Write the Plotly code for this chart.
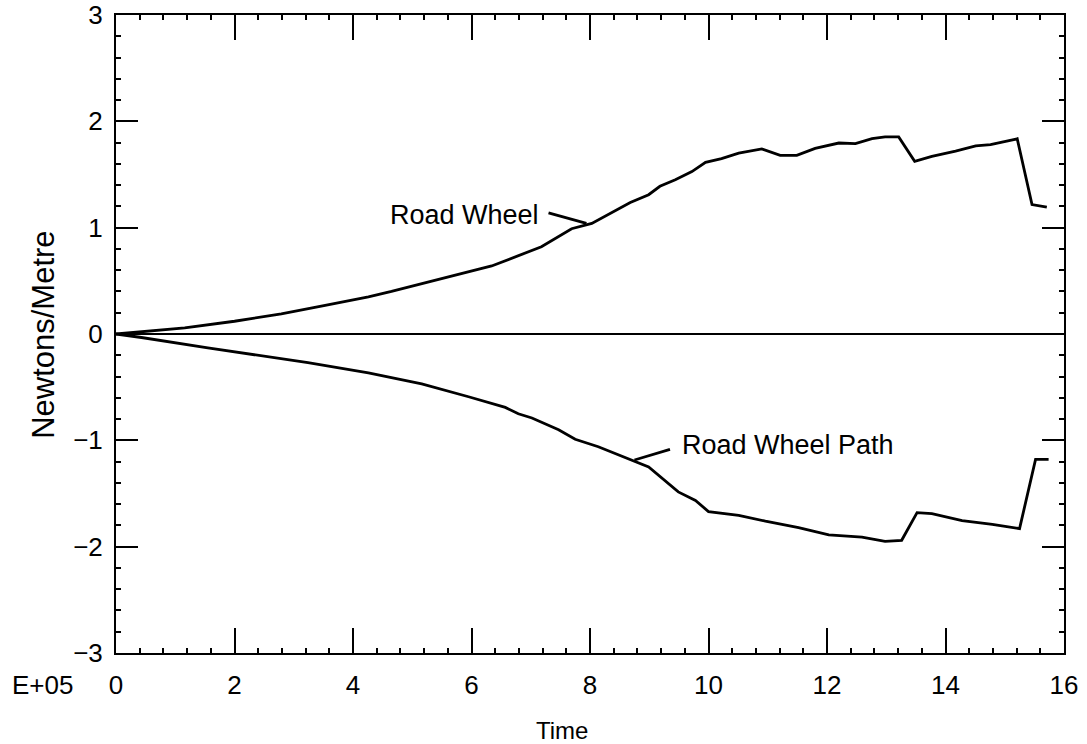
import plotly.graph_objects as go

# Time axis in units of 1E+05
road_wheel_t = [0.0, 0.43, 1.16, 2.0, 2.79, 3.53, 4.26, 4.65, 5.49, 6.34, 7.18, 7.69,
                8.03, 8.42, 8.68, 8.99, 9.18, 9.44, 9.72, 9.95, 10.22, 10.51, 10.90,
                11.21, 11.49, 11.80, 12.20, 12.48, 12.76, 12.98, 13.21, 13.48, 13.77,
                14.17, 14.51, 14.76, 15.21, 15.46, 15.71]
road_wheel_y = [0.0, 0.02, 0.057, 0.12, 0.19, 0.27, 0.35, 0.40, 0.52, 0.64, 0.82, 0.99,
                1.04, 1.16, 1.236, 1.31, 1.389, 1.45, 1.527, 1.614, 1.65, 1.70, 1.74,
                1.68, 1.68, 1.745, 1.796, 1.79, 1.837, 1.854, 1.853, 1.624, 1.67,
                1.72, 1.77, 1.78, 1.836, 1.217, 1.193]

path_t = [0.0, 0.43, 1.55, 2.40, 3.24, 4.26, 5.16, 5.95, 6.57, 6.79, 7.02, 7.47, 7.75,
          8.14, 8.70, 8.99, 9.49, 9.78, 10.0, 10.51, 10.96, 11.52, 12.03, 12.59,
          12.98, 13.26, 13.52, 13.77, 14.28, 14.79, 15.25, 15.52, 15.74]
path_y = [0.0, -0.033, -0.13, -0.20, -0.27, -0.366, -0.47, -0.59, -0.69, -0.75, -0.79,
          -0.90, -0.99, -1.06, -1.185, -1.25, -1.485, -1.566, -1.67, -1.706, -1.76,
          -1.82, -1.89, -1.91, -1.95, -1.94, -1.68, -1.69, -1.755, -1.79, -1.83,
          -1.18, -1.18]

x_ticks = [0, 2, 4, 6, 8, 10, 12, 14, 16]
y_ticks = [-3, -2, -1, 0, 1, 2, 3]
y_tick_text = ["\u22123", "\u22122", "\u22121", "0", "1", "2", "3"]

FONT = "Liberation Sans, Arial, sans-serif"
LINE = dict(color="black", width=2.8)

fig = go.Figure()
fig.add_trace(go.Scatter(x=road_wheel_t, y=road_wheel_y, mode="lines", line=LINE,
                         name="Road Wheel"))
fig.add_trace(go.Scatter(x=path_t, y=path_y, mode="lines", line=LINE,
                         name="Road Wheel Path"))

# leader lines from the curve labels to the curves
fig.add_trace(go.Scatter(x=[7.30, 7.94], y=[1.14, 1.04], mode="lines",
                         line=dict(color="black", width=2.8), hoverinfo="skip"))
fig.add_trace(go.Scatter(x=[9.35, 8.75], y=[-1.085, -1.185], mode="lines",
                         line=dict(color="black", width=2.8), hoverinfo="skip"))

fig.add_annotation(x=7.18, y=1.12, text="Road Wheel", showarrow=False,
                   xanchor="right", yanchor="middle",
                   font=dict(family=FONT, size=27, color="black"))
fig.add_annotation(x=9.52, y=-1.045, text="Road Wheel Path", showarrow=False,
                   xanchor="left", yanchor="middle",
                   font=dict(family=FONT, size=27, color="black"))
fig.add_annotation(x=-0.078, y=-0.050, xref="paper", yref="paper", text="E+05",
                   showarrow=False, xanchor="center", yanchor="middle",
                   font=dict(family=FONT, size=26, color="black"))

# axis titles
fig.add_annotation(x=0.4707, y=-0.1207, xref="paper", yref="paper", text="Time",
                   showarrow=False, xanchor="center", yanchor="middle",
                   font=dict(family=FONT, size=24, color="black"))
fig.add_annotation(x=-0.0764, y=0.498, xref="paper", yref="paper",
                   text="Newtons/Metre", textangle=-90,
                   showarrow=False, xanchor="center", yanchor="middle",
                   font=dict(family=FONT, size=31, color="black"))

axis_common = dict(
    showgrid=False,
    showline=True, linecolor="black", linewidth=2,
    mirror="allticks",
    ticks="inside", tickcolor="black", tickwidth=1.5,
    tickfont=dict(family=FONT, size=26, color="black"),
    ticklabeloverflow="allow",
    zeroline=False,
    automargin=False,
)

fig.update_xaxes(
    **axis_common,
    range=[0, 16], tickvals=x_ticks, ticklen=25,
    minor=dict(ticks="inside", dtick=0.4, ticklen=5, tickwidth=1.5, tickcolor="black"),
    ticklabelstandoff=8,
)
fig.update_yaxes(
    **axis_common,
    range=[-3, 3], tickvals=y_ticks, ticktext=y_tick_text, ticklen=22,
    minor=dict(ticks="inside", dtick=0.2, ticklen=5, tickwidth=1.5, tickcolor="black"),
    ticklabelstandoff=6,
)

# horizontal reference line at zero
fig.add_hline(y=0, line=dict(color="black", width=2))

fig.update_layout(
    width=1087, height=744,
    margin=dict(l=116, r=23, t=15, b=91),
    paper_bgcolor="white", plot_bgcolor="white",
    showlegend=False,
)

fig.write_html("out.html")
